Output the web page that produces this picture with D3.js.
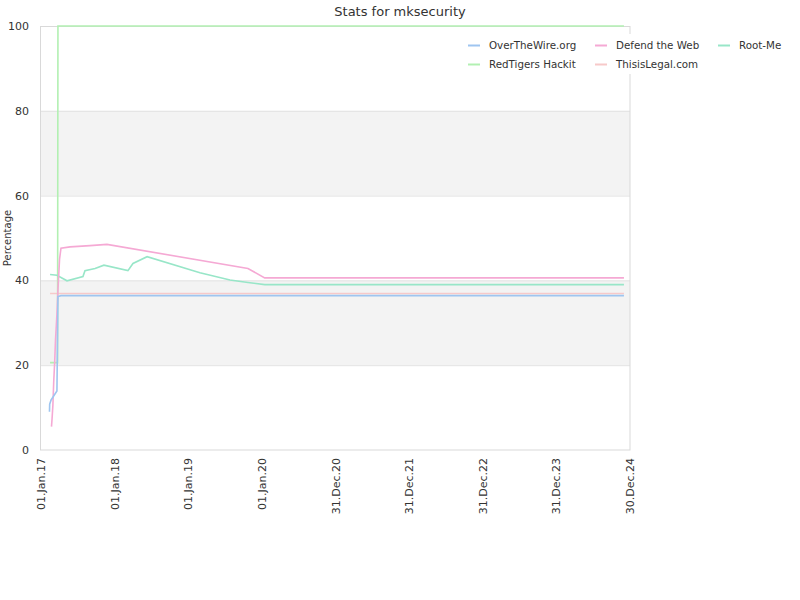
<!DOCTYPE html>
<html><head><meta charset="utf-8">
<script src="https://cdn.jsdelivr.net/npm/d3@7"></script>
<style>body{margin:0;background:#fff}svg{display:block}text{font-family:"DejaVu Sans",sans-serif;fill:#333}</style>
</head><body><svg id="c" width="800" height="600"></svg>
<script>
const seriesNames = ["OverTheWire.org","Defend the Web","Root-Me","RedTigers Hackit","ThisisLegal.com"];
const seriesColors = ["#9ec5f0","#f5a9d4","#98e6c8","#b2f0b2","#f7c9c9"];
const tickLabels = ["01.Jan.17","01.Jan.18","01.Jan.19","01.Jan.20","31.Dec.20","31.Dec.21","31.Dec.22","31.Dec.23","30.Dec.24"];
const yTicks = [0,20,40,60,80,100];

const overTheWireDates = ["2017-02-12","2017-02-13","2017-02-20","2017-03-21","2017-03-26","2017-04-10","2024-11-30"];
const overTheWireValues = [9.0,10.8,11.8,13.9,36.2,36.4,36.4];

const defendDates = ["2017-02-22","2017-02-25","2017-03-01","2017-03-05","2017-03-10","2017-03-14","2017-03-21","2017-03-26","2017-04-03","2017-04-10","2017-05-25","2017-09-01","2017-11-24","2019-10-24","2020-01-15","2024-11-30"];
const defendValues = [5.5,7.5,10.6,16,21,26,32,37.7,45,47.6,47.9,48.2,48.5,42.8,40.6,40.6];

const rootMeDates = ["2017-02-15","2017-03-21","2017-05-10","2017-07-28","2017-08-07","2017-09-26","2017-11-09","2018-03-08","2018-04-02","2018-06-11","2019-02-28","2019-07-27","2019-10-24","2020-01-15","2024-11-30"];
const rootMeValues = [41.4,41.2,39.9,40.9,42.3,42.8,43.6,42.3,44.0,45.6,41.8,40.1,39.5,39.0,39.0];

const redTigersDates = ["2017-02-15","2017-03-24","2017-03-26","2024-11-30"];
const redTigersValues = [20.6,20.6,100,100];

const thisisLegalDates = ["2017-02-15","2024-11-30"];
const thisisLegalValues = [36.9,36.9];

const parse = d3.timeParse("%Y-%m-%d");
const build = (ds, vs) => ds.map((d,i)=>({date:parse(d), value:vs[i]}));
const series = [
  build(overTheWireDates, overTheWireValues),
  build(defendDates, defendValues),
  build(rootMeDates, rootMeValues),
  build(redTigersDates, redTigersValues),
  build(thisisLegalDates, thisisLegalValues)
];

const svg = d3.select("#c");
const L=41, R=630, T=26, B=450;
const x = d3.scaleTime().domain([parse("2017-01-01"), parse("2024-12-30")]).range([L,R]);
const y = d3.scaleLinear().domain([0,100]).range([B,T]);

[[20,40],[60,80]].forEach(([a,b])=>{
  svg.append("rect").attr("x",L).attr("y",y(b)).attr("width",R-L).attr("height",y(a)-y(b)).attr("fill","#f3f3f3");
});
yTicks.slice(1,-1).forEach(v=>{
  svg.append("line").attr("x1",L).attr("x2",R).attr("y1",y(v)+0.5).attr("y2",y(v)+0.5).attr("stroke","#e2e2e2");
});
svg.append("rect").attr("x",L-0.5).attr("y",T+0.5).attr("width",R-L+0.5).attr("height",B-T-0.5).attr("fill","none").attr("stroke","#d9d9d9");

const line = d3.line().x(d=>x(d.date)).y(d=>y(d.value));
const order = [4,3,2,1,0];
order.forEach(i=>{
  svg.append("path").datum(series[i]).attr("d",line).attr("fill","none").attr("stroke",seriesColors[i]).attr("stroke-width",1.6);
});

yTicks.forEach(v=>{
  svg.append("text").attr("x",29).attr("y",y(v)+4).attr("text-anchor","end").attr("font-size",11).text(v);
});
svg.append("text").attr("transform",`translate(11,${(T+B)/2}) rotate(-90)`).attr("text-anchor","middle").attr("font-size",10).text("Percentage");

const tickDates = tickLabels.map((t,i)=>d3.timeDay.offset(parse("2017-01-01"), i*365));
tickDates.forEach((d,i)=>{
  svg.append("text").attr("transform",`translate(${x(d)+4},458) rotate(-90)`).attr("text-anchor","end").attr("font-size",11).text(tickLabels[i]);
});

svg.append("text").attr("x",400).attr("y",16).attr("text-anchor","middle").attr("font-size",13).text("Stats for mksecurity");

svg.append("rect").attr("x",458).attr("y",34).attr("width",335).attr("height",40).attr("fill","#fff");
const legPos = [[468,45],[595,45],[718,45],[468,64],[595,64]];
seriesNames.forEach((n,i)=>{
  const [lx,ly]=legPos[i];
  svg.append("line").attr("x1",lx).attr("x2",lx+12).attr("y1",ly+0.5).attr("y2",ly+0.5).attr("stroke",seriesColors[i]).attr("stroke-width",2);
  svg.append("text").attr("x",lx+21).attr("y",ly+4).attr("font-size",10.3).attr("fill","#222").text(n);
});
</script></body></html>
